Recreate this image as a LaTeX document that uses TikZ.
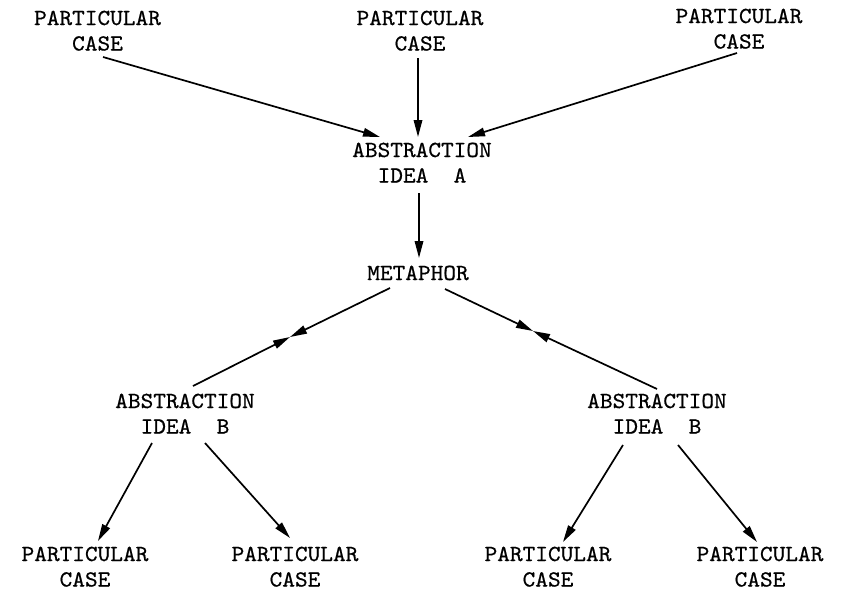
\documentclass[tikz,border=0pt]{standalone}
\usepackage{fontspec}
\setmonofont[FakeBold=0.6]{lmmono10-regular.otf}
\usetikzlibrary{arrows.meta}
\begin{document}
\begin{tikzpicture}[x=1pt,y=-1pt,
  lbl/.style={anchor=base,inner sep=0pt,align=center,xscale=1.05,
    font=\ttfamily\fontsize{23}{25.5}\selectfont},
  arr/.style={-{Triangle[length=17pt,width=8.5pt]},line width=1.7pt}]
\useasboundingbox (0,0) rectangle (843,595);

% labels are placed by the baseline of their last line
% top row of particular cases
\node[lbl] (pc1) at (97.5,50.5) {PARTICULAR\\CASE};
\node[lbl] (pc2) at (420,50.5) {PARTICULAR\\CASE};
\node[lbl] (pc3) at (739,48.5) {PARTICULAR\\CASE};

% abstraction A and the metaphor
\node[lbl] (absA) at (422,182.5) {ABSTRACTION\\IDEA\ \ A};
\node[lbl] (meta) at (418,280) {METAPHOR};

% the two abstractions B
\node[lbl] (absBL) at (185,433.5) {ABSTRACTION\\IDEA\ \ B};
\node[lbl] (absBR) at (657,433.5) {ABSTRACTION\\IDEA\ \ B};

% bottom row of particular cases
\node[lbl] (pcL1) at (85,586.5) {PARTICULAR\\CASE};
\node[lbl] (pcL2) at (295,586.5) {PARTICULAR\\CASE};
\node[lbl] (pcR1) at (548,586.5) {PARTICULAR\\CASE};
\node[lbl] (pcR2) at (760,586.5) {PARTICULAR\\CASE};

% meeting points on the metaphor links
\coordinate (mL) at (290,337);
\coordinate (mR) at (533,331);

% cases lead up to abstraction A
\draw[arr] ([shift={(5.5pt,-6.5pt)}]pc1.base) -- ([shift={(-42pt,45.5pt)}]absA.base);
\draw[arr] ([shift={(-2pt,-7.5pt)}]pc2.base) -- ([shift={(-4pt,45.5pt)}]absA.base);
\draw[arr] ([shift={(-2pt,-4.5pt)}]pc3.base) -- ([shift={(46pt,45.5pt)}]absA.base);

% abstraction A to metaphor
\draw[arr] ([shift={(-3pt,-10.5pt)}]absA.base) -- ([shift={(1pt,22pt)}]meta.base);

% metaphor links, arrows meeting halfway
\draw[arr] ([shift={(-28pt,-8pt)}]meta.base) -- (mL);
\draw[arr] ([shift={(8pt,47.5pt)}]absBL.base) -- (mL);
\draw[arr] ([shift={(27pt,-9pt)}]meta.base) -- (mR);
\draw[arr] ([shift={(0pt,44.5pt)}]absBR.base) -- (mR);

% abstractions B down to their cases
\draw[arr] ([shift={(-33pt,-9.5pt)}]absBL.base) -- ([shift={(13pt,45.5pt)}]pcL1.base);
\draw[arr] ([shift={(20pt,-9.5pt)}]absBL.base) -- ([shift={(-5pt,48.5pt)}]pcL2.base);
\draw[arr] ([shift={(-34pt,-11.5pt)}]absBR.base) -- ([shift={(15pt,44.5pt)}]pcR1.base);
\draw[arr] ([shift={(21pt,-11.5pt)}]absBR.base) -- ([shift={(-3pt,44.5pt)}]pcR2.base);
\end{tikzpicture}
\end{document}
